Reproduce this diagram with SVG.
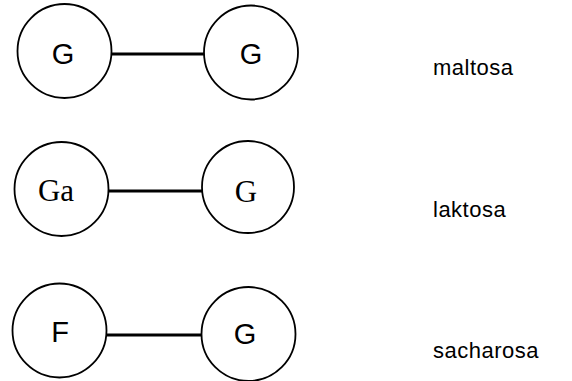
<svg xmlns="http://www.w3.org/2000/svg" width="572" height="381" viewBox="0 0 572 381">
<style>
.c{fill:#fff;stroke:#000;stroke-width:1.8}
.l{stroke:#000;stroke-width:3}
.s{font-family:"Liberation Sans",Arial,sans-serif;font-size:29px;text-anchor:middle;fill:#000}
.r{font-family:"Liberation Serif","Times New Roman",serif;font-size:31px;text-anchor:middle;fill:#000}
.t{font-family:"Liberation Sans",Arial,sans-serif;font-size:22px;letter-spacing:0.5px;fill:#000}
</style>
<rect width="572" height="381" fill="#fff"/>
<g id="connectors">
<line class="l" x1="111" y1="54" x2="204" y2="54"/>
<line class="l" x1="108" y1="191" x2="202" y2="191"/>
<line class="l" x1="106" y1="335" x2="202" y2="335"/>
</g>
<g id="maltosa-G1"><circle class="c" cx="64.5" cy="51" r="47"/><text class="s" x="63" y="64">G</text></g>
<g id="maltosa-G2"><circle class="c" cx="251" cy="52.5" r="47"/><text class="s" x="251" y="64">G</text></g>
<g id="laktosa-Ga"><circle class="c" cx="61.5" cy="189" r="47"/><text class="r" x="56" y="201">Ga</text></g>
<g id="laktosa-G"><circle class="c" cx="248" cy="187" r="46"/><text class="r" x="246" y="202">G</text></g>
<g id="sacharosa-F"><circle class="c" cx="59.5" cy="330.5" r="47"/><text class="s" x="60" y="342">F</text></g>
<g id="sacharosa-G"><circle class="c" cx="248.5" cy="334" r="47"/><text class="s" x="245" y="344">G</text></g>
<text class="t" x="433" y="75">maltosa</text>
<text class="t" x="433" y="217">laktosa</text>
<text class="t" x="433" y="358">sacharosa</text>
</svg>
